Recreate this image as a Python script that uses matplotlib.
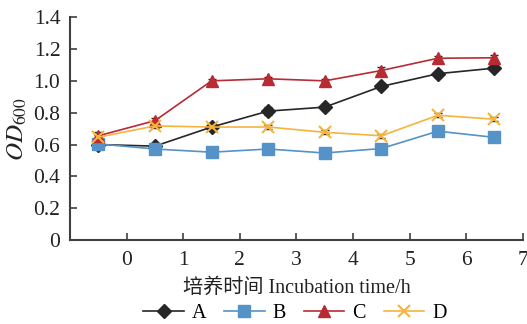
import numpy as np
import matplotlib
matplotlib.use('Agg')
import matplotlib.pyplot as plt

plt.rcParams['font.family'] = ['Liberation Serif', 'Noto Sans CJK SC']
plt.rcParams['mathtext.fontset'] = 'stix'

# data
hours = [-0.5, 0.5, 1.5, 2.5, 3.5, 4.5, 5.5, 6.5]
series_names = ['A', 'B', 'C', 'D']
A = [0.60, 0.59, 0.71, 0.81, 0.835, 0.965, 1.045, 1.08]
B = [0.604, 0.572, 0.552, 0.572, 0.547, 0.575, 0.684, 0.645]
C = [0.655, 0.75, 1.00, 1.013, 1.00, 1.065, 1.142, 1.145]
D = [0.646, 0.717, 0.710, 0.710, 0.677, 0.655, 0.784, 0.759]
A_err = [0.015, 0.012, 0.015, 0.025, 0.02, 0.015, 0.02, 0.015]
B_err = [0.01, 0.01, 0.01, 0.01, 0.01, 0.01, 0.01, 0.01]
C_err = [0.025, 0.015, 0.01, 0.01, 0.01, 0.02, 0.012, 0.015]
D_err = [0.015, 0.01, 0.01, 0.015, 0.012, 0.012, 0.012, 0.012]

colors = ['#262626', '#5592C8', '#B82B33', '#F5B43C']
markers = ['D', 's', '^', 'x']
msizes = [7, 8.5, 8.5, 8]

fig = plt.figure(figsize=(5.27, 3.24), dpi=100)
ax = fig.add_axes([0.133, 0.259, 0.859, 0.688])

handles = []
for vals, errs, col, mk, ms, name in zip([A, B, C, D], [A_err, B_err, C_err, D_err],
                                          colors, markers, msizes, series_names):
    ax.errorbar(hours, vals, yerr=errs, fmt='none', ecolor='#222222',
                elinewidth=1.0, capsize=3, capthick=1.0, zorder=2)
    mew = 1.5 if mk == 'x' else 1.0
    h, = ax.plot(hours, vals, color=col, marker=mk, markersize=ms, lw=1.2,
                 markeredgewidth=mew, label=name, zorder=3)
    handles.append(h)

ax.set_xlim(-1, 7)
ax.set_ylim(0, 1.4)
ax.set_xticks(range(0, 8))
ax.set_yticks(np.arange(0, 1.41, 0.2))
ax.set_yticklabels(['0', '0.2', '0.4', '0.6', '0.8', '1.0', '1.2', '1.4'])

for s in ['top', 'right']:
    ax.spines[s].set_visible(False)
for s in ['left', 'bottom']:
    ax.spines[s].set_color('#404040')
    ax.spines[s].set_linewidth(1.5)
ax.tick_params(direction='in', length=5, width=1.2, color='#404040',
               labelsize=15.5, labelcolor='#222222')
ax.tick_params(axis='x', pad=8)
ax.tick_params(axis='y', pad=7)

ax.set_xlabel('培养时间 Incubation time/h', fontsize=14.5, color='#222222', labelpad=6)
ax.set_ylabel(r'$OD_{600}$', fontsize=18, color='#222222', labelpad=3)

fig.legend(handles=handles, loc='center', bbox_to_anchor=(0.56, 0.032), ncol=4,
           frameon=False, fontsize=14.5, handlelength=2.0, columnspacing=0.9,
           handletextpad=0.4)

fig.savefig('out.png', dpi=100)
